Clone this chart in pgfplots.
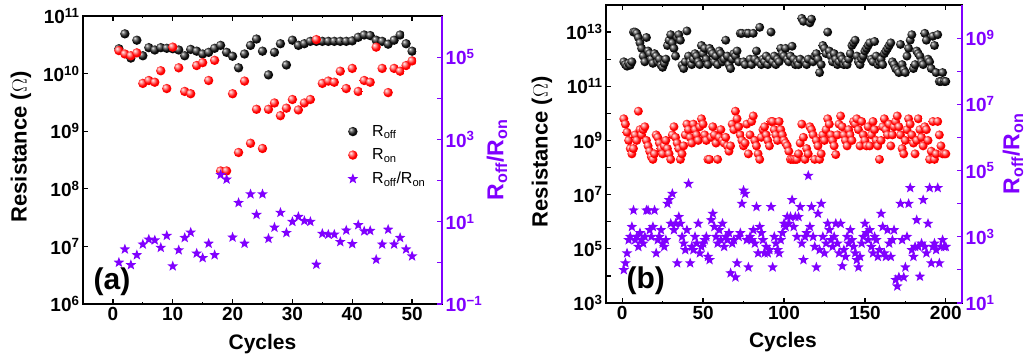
\documentclass[border=0pt]{standalone}
\usepackage{fontspec}
\setmainfont{Liberation Sans}
\usepackage{pgfplots}
\pgfplotsset{compat=1.18}
\usepackage{pgfplotstable}
\definecolor{vio}{RGB}{128,0,255}

\pgfdeclareplotmark{fivestar}{%
  \pgfpathmoveto{\pgfpointpolar{90}{\pgfplotmarksize}}%
  \pgfpathlineto{\pgfpointpolar{126}{0.42\pgfplotmarksize}}%
  \pgfpathlineto{\pgfpointpolar{162}{\pgfplotmarksize}}%
  \pgfpathlineto{\pgfpointpolar{198}{0.42\pgfplotmarksize}}%
  \pgfpathlineto{\pgfpointpolar{234}{\pgfplotmarksize}}%
  \pgfpathlineto{\pgfpointpolar{270}{0.42\pgfplotmarksize}}%
  \pgfpathlineto{\pgfpointpolar{306}{\pgfplotmarksize}}%
  \pgfpathlineto{\pgfpointpolar{342}{0.42\pgfplotmarksize}}%
  \pgfpathlineto{\pgfpointpolar{18}{\pgfplotmarksize}}%
  \pgfpathlineto{\pgfpointpolar{54}{0.42\pgfplotmarksize}}%
  \pgfpathclose
  \pgfusepathqfill
}
\pgfdeclareradialshading{redballsh}{\pgfpoint{-12bp}{12bp}}{color(0bp)=(red!5!white); color(10bp)=(red!50!white); color(20bp)=(red); color(38bp)=(red!94!black); color(50bp)=(red!75!black)}
\pgfdeclareradialshading{blackballsh}{\pgfpoint{-12bp}{12bp}}{color(0bp)=(black!5!white); color(8bp)=(black!50); color(20bp)=(black!95); color(50bp)=(black)}
\pgfdeclareplotmark{redball}{\pgfpathcircle{\pgfpointorigin}{\pgfplotmarksize}\pgfshadepath{redballsh}{0}\pgfusepath{}}
\pgfdeclareplotmark{blackball}{\pgfpathcircle{\pgfpointorigin}{\pgfplotmarksize}\pgfshadepath{blackballsh}{0}\pgfusepath{}}

\newcommand\alllab{\pgfmathtruncatemacro\myexp{round(\tick)}10\textsuperscript{\ifnum\myexp<0 −\number-\myexp\else\myexp\fi}}
\newcommand\oddlab{\pgfmathtruncatemacro\myexp{round(\tick)}\ifodd\myexp\relax 10\textsuperscript{\ifnum\myexp<0 −\number-\myexp\else\myexp\fi}\fi}

\pgfplotstableread{
c roff ron ratio
1 2.7e10 2.51e10 1.02
2 4.9e10 2.19e10 2.14
3 1.86e10 2.04e10 0.89
4 3.8e10 2.29e10 1.55
5 2.04e10 6.76e9 2.82
6 2.82e10 7.59e9 3.72
7 2.57e10 7.08e9 3.55
8 2.82e10 1.12e10 2.34
9 2.75e10 5.5e9 4.57
10 2.7e10 2.88e10 0.83
11 2.57e10 1.26e10 2.04
12 2.04e10 4.9e9 4.07
13 2.63e10 4.47e9 5.5
14 2.45e10 1.38e10 1.7
15 2.19e10 1.55e10 1.32
16 2.34e10 7.59e9 2.95
17 2.75e10 1.7e10 1.55
18 3.09e10 2.04e8 138
19 2.34e10 2.04e8 107
20 2.0e10 4.47e9 4.17
21 1.26e10 4.27e8 28.8
22 2.19e10 7.41e9 2.95
23 3.09e10 6.17e8 46.8
24 3.98e10 2.4e9 14.8
25 2.45e10 5.01e8 46.8
26 9.5e9 2.4e9 3.89
27 2.34e10 3.09e9 7.24
28 3.3e10 1.86e9 16.6
29 1.41e10 2.51e9 5.37
30 3.8e10 3.55e9 10
31 3.09e10 2.34e9 13.2
32 3.3e10 3.09e9 10.5
33 3.63e10 3.55e9 10
34 3.63e10 3.89e10 0.91
35 3.63e10 6.76e9 5.13
36 3.63e10 7.41e9 4.9
37 3.63e10 7.08e9 4.9
38 3.63e10 1.1e10 3.24
39 3.63e10 5.5e9 6.17
40 3.7e10 1.23e10 2.88
41 4.27e10 4.9e9 8.32
42 4.68e10 7.59e9 5.89
43 4.57e10 7.08e9 6.03
44 3.8e10 2.88e10 1.2
45 3.63e10 1.23e10 2.82
46 3.24e10 4.68e9 6.46
47 3.8e10 1.23e10 2.82
48 4.68e10 1.1e10 4.07
49 3.3e10 1.38e10 2.14
50 2.45e10 1.66e10 1.45
}\tablea

\pgfplotstableread{
c roff ron ratio
1 8e11 6.3e9 100
2 6.3e11 4e9 160
3 5.5e11 2e9 320
4 7e11 1e9 800
5 6e11 5e8 1000
6 8e11 3.2e8 2000
7 1e13 5e8 6300
8 1e13 1.6e9 800
9 9e12 1e9 1000
10 6.3e12 1.2e10 500
11 4e12 2.5e9 1300
12 2.5e12 1.6e9 800
13 1.3e12 2.5e9 630
14 8e11 3.2e9 1000
15 6.3e12 1e9 6300
16 2e12 6.3e8 6300
17 1.6e12 4e8 1600
18 1e12 2.5e8 1000
19 7e11 2e8 2000
20 1.6e12 3.2e8 6300
21 1.3e12 1.6e9 320
22 8e11 1.3e9 800
23 1e12 8e8 1000
24 6e11 5e8 1600
25 5e11 3.2e8 630
26 7e11 6.3e8 500
27 1e12 1e9 800
28 3.2e12 5e8 1e4
29 5e12 3.2e8 1.3e4
30 8e12 2e8 2500
31 4e12 1.6e9 2e4
32 2.5e12 3.2e9 1600
33 1.3e12 1.3e9 2500
34 6.3e12 8e8 160
35 8e12 5e8 4000
36 5e12 2e8 2500
37 6e11 3.2e8 1000
38 4.5e11 6.3e8 630
39 8e11 1.6e9 400
40 1.1e13 4e9 1600
41 1.3e12 2.5e9 4e4
42 8e11 1.3e9 160
43 6.3e11 8e8 500
44 1e12 4e9 400
45 1.6e12 2.5e9 1000
46 1.3e12 1.6e9 630
47 8e11 1e9 2500
48 6.3e11 3.2e9 320
49 3.2e12 6.3e9 500
50 1.6e12 4e9 630
51 2.5e12 1.6e9 800
52 1e12 1e9 1000
53 6.3e11 2e8 250
54 2.5e12 2e8 200
55 2e12 1.3e9 3200
56 1.6e12 3.2e9 5000
57 8e11 1.6e9 2000
58 1.3e12 8e8 1000
59 6.3e11 2e8 630
60 2e12 1.3e9 1600
61 1.6e12 2.5e9 800
62 8e11 1e9 2500
63 1e12 8e8 500
64 5e12 1.3e9 1000
65 1.3e12 6.3e8 800
66 6.3e11 4e8 1300
67 4.5e11 6.3e8 80
68 1e12 4e9 630
69 1.6e12 2.5e9 800
70 1.3e12 1.2e10 60
71 2e12 6.3e9 160
72 8e11 3.2e9 1000
73 9e12 1.6e9 1300
74 9e12 1e9 1e4
75 8e11 6.3e8 2.5e4
76 6.3e11 8e8 2e4
77 9e12 4e9 800
78 9e12 3.2e8 120
79 1e12 1.6e9 1000
80 6.3e11 5e9 800
81 9e12 8e9 1600
82 1e12 1e9 630
83 2e12 6.3e8 8000
84 8e11 3.2e8 320
85 1.5e13 2e8 2000
86 6.3e11 1.3e9 1300
87 1e12 2.5e9 800
88 8e11 3.2e9 320
89 1.3e12 1.6e9 500
90 6.3e11 1e9 320
91 1e12 6.3e8 400
92 1e13 5e9 8000
93 8e11 5e9 120
94 1.3e12 2.5e9 1000
95 6.3e11 1.6e9 630
96 1e12 1e9 400
97 8e11 5e9 320
98 2.5e12 2.5e9 800
99 1.6e12 1.6e9 1300
100 1.3e12 1e9 2500
101 2.5e12 8e8 2000
102 1e12 6.3e8 4000
103 8e11 4e8 2500
104 1.3e12 2e8 4000
105 3e12 2e8 1.3e4
106 1e12 2e8 2000
107 6.3e11 2e8 4000
108 8e11 2e8 1000
109 6.3e11 3.2e8 4000
110 1e12 8e8 8000
111 3.2e13 4e9 630
112 2.5e13 1.3e9 200
113 8e11 2e8 1000
114 6.3e11 5e8 1300
115 1e12 3.2e8 7e4
116 2.2e13 3.2e9 2000
117 3e13 2.5e9 8000
118 8e11 1.6e9 1000
119 1.3e12 2e8 500
120 1.6e12 1e9 120
121 1e12 6.3e8 5000
122 3.2e11 2e8 400
123 6.3e11 3.2e8 1e4
124 3.2e12 1.6e9 1000
125 2.5e12 1e9 320
126 1.6e12 2.5e9 630
127 1e13 6.3e9 2500
128 2e12 4e9 1600
129 1.3e12 1.6e9 800
130 8e11 1e9 500
131 1.6e12 6.3e8 1000
132 1e12 3e8 2500
133 6.3e11 1.6e9 630
134 8e11 4e9 320
135 1.3e12 8e9 2500
136 1e12 3.2e9 130
137 6.3e11 1.6e9 400
138 8e11 1e9 250
139 6.3e11 6.3e8 1000
140 1e12 2.5e9 630
141 1.6e12 1.6e9 1600
142 3.2e12 1e9 800
143 4e12 5e9 500
144 5e12 4e9 320
145 1.3e12 6.3e9 200
146 8e11 2.5e9 120
147 6.3e11 6.3e8 250
148 1e12 5e9 630
149 1.3e12 1.6e9 1000
150 2e12 1e9 2500
151 2.5e12 6.3e8 1300
152 3.2e12 3.2e9 800
153 4e12 6.3e8 1600
154 1e12 1.6e9 500
155 8e11 5e9 320
156 4.5e12 2.5e9 1000
157 1.3e12 1e9 800
158 6.3e11 6.3e8 250
159 8e11 2e8 400
160 1e12 1e9 5000
161 6.3e11 3.2e9 2000
162 1.6e12 6.3e9 320
163 2e12 2.5e9 250
164 2.5e12 1.6e9 1600
165 3.2e12 4e9 630
166 4e12 6.3e8 250
167 8e11 1.6e9 800
168 6.3e11 3.2e9 1600
169 4.5e11 5e9 50
170 4e11 8e9 32
171 3.2e11 3.2e9 60
172 3.5e12 1.6e9 1e4
173 6.3e11 5e8 800
174 4e11 3.2e8 60
175 3.2e11 1e9 120
176 1.3e12 2.5e9 1000
177 2.5e12 6.3e9 1e4
178 5e12 4e9 3e4
179 8e12 1.6e9 400
180 4.5e11 8e8 250
181 6.3e11 3.2e8 500
182 2e12 1e9 3200
183 1.6e12 6.3e9 500
184 1.3e12 2.5e9 63
185 8e11 1.3e9 630
186 6.3e11 6.3e8 1.3e4
187 9e12 3.2e9 500
188 5e12 2.5e9 320
189 1e12 1e9 2500
190 8e11 2e8 3e4
191 4.5e11 4e8 160
192 7e12 5e9 500
193 3.2e12 2e8 630
194 3.2e11 3.2e8 400
195 8e12 5e9 3e4
196 1.5e11 1.6e9 160
197 1.5e11 6.3e8 500
198 3.2e11 3.2e8 800
199 1.5e11 3.2e8 500
200 1.5e11 3.2e8 500
}\tableb

\pgfplotsset{
  myaxlook/.style={
    scale only axis,
    tick align=inside,
    major tick length=5pt, minor tick length=2.5pt,
    tick style={black, line width=1.2pt},
    minor tick style={line width=0.8pt},
    axis line style={line width=1.6pt},
    tick label style={font=\fontsize{19}{21}\selectfont\bfseries},
    xticklabel={\pgfmathprintnumber[assume math mode=true]{\tick}},
  },
  myrightlook/.style={
    axis x line=none, axis y line*=right,
    tick style={vio, line width=1.2pt},
    y axis line style={draw=vio, line width=2.6pt},
    yticklabel style={text=vio},
    yticklabel={\oddlab},
  },
}

\begin{document}
\begin{tikzpicture}
\useasboundingbox (0,0) rectangle (1034pt,362pt);
% ---------- panel (a) ----------
\begin{semilogyaxis}[myaxlook, log basis y=10, at={(83pt,58pt)}, anchor=south west, width=359pt, height=288pt,
  xmin=-5, xmax=55, ymin=1e6, ymax=1e11,
  xtick={0,10,...,50}, minor x tick num=1,
  ytickten={6,...,11}, yticklabel={\alllab},
  ytick pos=left,
  xlabel={Cycles}, ylabel={Resistance (\textnormal{$\Omega$})},
  every axis x label/.style={at={(axis description cs:0.5,-0.139)}, anchor=center, font=\fontsize{21}{23}\selectfont\bfseries},
  every axis y label/.style={at={(axis description cs:-0.173,0.545)}, anchor=center, rotate=90, font=\fontsize{22}{24}\selectfont\bfseries},
]
\addplot[only marks, mark=blackball, mark size=4.7pt] table[x=c, y=roff]{\tablea};
\addplot[only marks, mark=redball, mark size=4.7pt] table[x=c, y=ron]{\tablea};
\node[font=\fontsize{30}{32}\selectfont\bfseries, anchor=base west] at (rel axis cs:0.02,0.052) {(a)};
\end{semilogyaxis}
\begin{semilogyaxis}[myaxlook, myrightlook, log basis y=10, at={(83pt,58pt)}, anchor=south west, width=359pt, height=288pt,
  xmin=-5, xmax=55, ymin=0.1, ymax=1e6,
  ytickten={-1,...,5},
  ylabel={R\textsubscript{off}/R\textsubscript{on}},
  every axis y label/.style={at={(axis description cs:1.153,0.5)}, anchor=center, rotate=90, text=vio, font=\fontsize{23}{25}\selectfont\bfseries},
  legend style={at={(axis description cs:0.728,0.635)}, anchor=north west, draw=none, fill=none,
    font=\fontsize{16}{18}\selectfont, row sep=7pt,
    /tikz/every odd column/.append style={column sep=12pt}},
  legend cell align=left,
]
\addlegendimage{only marks, mark=blackball, mark size=4.7pt}
\addlegendentry{R\textsubscript{off}}
\addlegendimage{only marks, mark=redball, mark size=4.7pt}
\addlegendentry{R\textsubscript{on}}
\addplot[only marks, mark=fivestar, mark size=5.6pt, color=vio, fill=vio] table[x=c, y=ratio]{\tablea};
\addlegendentry{R\textsubscript{off}/R\textsubscript{on}}
\end{semilogyaxis}
% ---------- panel (b) ----------
\begin{semilogyaxis}[myaxlook, log basis y=10, at={(606pt,59pt)}, anchor=south west, width=356pt, height=298pt,
  xmin=-10, xmax=210, ymin=1e3, ymax=1e14,
  xtick={0,50,...,200}, minor x tick num=1,
  ytickten={3,...,13}, yticklabel={\oddlab},
  ytick pos=left,
  xlabel={Cycles}, ylabel={Resistance (\textnormal{$\Omega$})},
  every axis x label/.style={at={(axis description cs:0.497,-0.131)}, anchor=center, font=\fontsize{21}{23}\selectfont\bfseries},
  every axis y label/.style={at={(axis description cs:-0.18,0.507)}, anchor=center, rotate=90, font=\fontsize{22}{24}\selectfont\bfseries},
]
\addplot[only marks, mark=blackball, mark size=4.5pt] table[x=c, y=roff]{\tableb};
\addplot[only marks, mark=redball, mark size=4.5pt] table[x=c, y=ron]{\tableb};
\node[font=\fontsize{30}{32}\selectfont\bfseries, anchor=base west] at (rel axis cs:0.048,0.05) {(b)};
\end{semilogyaxis}
\begin{semilogyaxis}[myaxlook, myrightlook, log basis y=10, at={(606pt,59pt)}, anchor=south west, width=356pt, height=298pt,
  xmin=-10, xmax=210, ymin=10, ymax=1e10,
  ytickten={1,...,9},
  ylabel={R\textsubscript{off}/R\textsubscript{on}},
  every axis y label/.style={at={(axis description cs:1.143,0.5)}, anchor=center, rotate=90, text=vio, font=\fontsize{23}{25}\selectfont\bfseries},
]
\addplot[only marks, mark=fivestar, mark size=5.6pt, color=vio, fill=vio] table[x=c, y=ratio]{\tableb};
\end{semilogyaxis}
\end{tikzpicture}
\end{document}
